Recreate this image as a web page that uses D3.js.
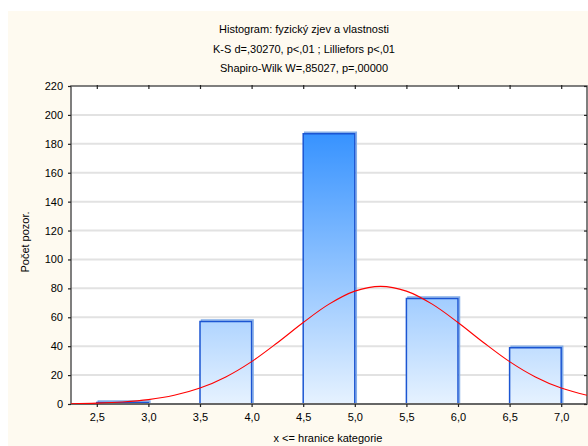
<!DOCTYPE html>
<html>
<head>
<meta charset="utf-8">
<script src="https://cdn.jsdelivr.net/npm/d3@7"></script>
<style>
  html, body { margin: 0; padding: 0; background: #fff; }
  svg { display: block; }
  text { font-family: "Liberation Sans", Arial, sans-serif; fill: #000; }
</style>
</head>
<body>
<svg id="chart" width="588" height="446"></svg>
<script>
// ---- data ----
const titleLines = [
  "Histogram: fyzický zjev a vlastnosti",
  "K-S d=,30270, p<,01 ; Lilliefors p<,01",
  "Shapiro-Wilk W=,85027, p=,00000"
];
const xAxisTitle = "x <= hranice kategorie";
const yAxisTitle = "Počet pozor.";
const binLower = [2.5, 3.0, 3.5, 4.0, 4.5, 5.0, 5.5, 6.0, 6.5];
const binUpper = [3.0, 3.5, 4.0, 4.5, 5.0, 5.5, 6.0, 6.5, 7.0];
const binCounts = [1, 0, 57, 0, 187, 0, 73, 0, 39];
const xTicks = [2.5, 3.0, 3.5, 4.0, 4.5, 5.0, 5.5, 6.0, 6.5, 7.0];
const yTicks = [0, 20, 40, 60, 80, 100, 120, 140, 160, 180, 200, 220];
// expected-normal curve, values
const curveX = [2.25, 2.5, 2.75, 3.0, 3.25, 3.5, 3.75, 4.0, 4.25, 4.5, 4.75, 5.0, 5.25, 5.5, 5.75, 6.0, 6.25, 6.5, 6.75, 7.0, 7.25];
const curveY = [0.2, 0.6, 1.4, 3.0, 6.0, 11.0, 18.7, 29.3, 42.4, 56.4, 69.1, 78.1, 81.4, 78.1, 69.1, 56.4, 42.4, 29.3, 18.7, 11.0, 6.0];

// ---- layout ----
const svg = d3.select("#chart");
const L = 71, R = 587, T = 86, B = 404;
const x = d3.scaleLinear().domain([2.25, 7.25]).range([L, R]);
const y = d3.scaleLinear().domain([0, 220]).range([B, T]);
const fmt = d => d3.format(".1f")(d).replace(".", ",");

svg.append("rect").attr("x", 0).attr("y", 0).attr("width", 588).attr("height", 446).attr("fill", "#fff");
svg.append("rect").attr("x", 8).attr("y", 11).attr("width", 580).attr("height", 435).attr("fill", "#fefaf0");
svg.append("rect").attr("x", L).attr("y", T).attr("width", R - L).attr("height", B - T).attr("fill", "#fff");

const defs = svg.append("defs");
const grad = defs.append("linearGradient").attr("id", "barGrad")
  .attr("gradientUnits", "userSpaceOnUse")
  .attr("x1", 0).attr("x2", 0).attr("y1", y(0)).attr("y2", y(200));
grad.append("stop").attr("offset", "0%").attr("stop-color", "#e6f2ff");
grad.append("stop").attr("offset", "100%").attr("stop-color", "#2b8cff");
defs.append("clipPath").attr("id", "clip").append("rect")
  .attr("x", L).attr("y", T).attr("width", R - L).attr("height", B - T);

// gridlines
svg.append("g").selectAll("line").data(yTicks.filter(d => d > 0 && d < 220)).join("line")
  .attr("x1", L).attr("x2", R).attr("y1", d => y(d)).attr("y2", d => y(d))
  .attr("stroke", "#e2e2e2").attr("stroke-width", 2);

// bars
const bars = binCounts.map((c, i) => ({ x0: binLower[i], x1: binUpper[i], c }));
const barPath = (d, dx, dy) => {
  const a = x(d.x0) + dx, b = x(d.x1) + dx, top = y(d.c) + dy, bot = y(0);
  return `M${a},${bot}V${top}H${b}V${bot}`;
};
const gb = svg.append("g");
gb.selectAll("path.shadow").data(bars.filter(d => d.c > 0)).join("path").attr("class", "shadow")
  .attr("d", d => barPath(d, 1.5, -1.5))
  .attr("fill", "none").attr("stroke", "#84aee8").attr("stroke-width", 1.5);
gb.selectAll("rect.bar").data(bars.filter(d => d.c > 0)).join("rect").attr("class", "bar")
  .attr("x", d => x(d.x0)).attr("width", d => x(d.x1) - x(d.x0))
  .attr("y", d => y(d.c)).attr("height", d => y(0) - y(d.c))
  .attr("fill", "url(#barGrad)");
gb.selectAll("path.edge").data(bars).join("path").attr("class", "edge")
  .attr("d", d => d.c > 0 ? barPath(d, 0, 0) + "Z" : `M${x(d.x0)},${y(0)}H${x(d.x1)}`)
  .attr("fill", "none").attr("stroke", d => d.c > 0 ? "#1b55d2" : "#4a6fb8").attr("stroke-width", 1.5);

// frame
svg.append("rect").attr("x", L).attr("y", T).attr("width", R - L).attr("height", B - T)
  .attr("fill", "none").attr("stroke", "#555").attr("stroke-width", 1.5);
svg.append("line").attr("x1", L).attr("x2", R).attr("y1", B).attr("y2", B)
  .attr("stroke", "#666").attr("stroke-width", 2);

// normal curve
const line = d3.line().x(d => x(d[0])).y(d => y(d[1])).curve(d3.curveCatmullRom);
svg.append("path").attr("clip-path", "url(#clip)")
  .datum(curveX.map((v, i) => [v, curveY[i]]))
  .attr("d", line).attr("fill", "none").attr("stroke", "#ff0000").attr("stroke-width", 1.1);

// axes
const axB = svg.append("g").attr("transform", `translate(0,${B})`)
  .call(d3.axisBottom(x).tickValues(xTicks).tickFormat(fmt).tickSize(3).tickPadding(6));
const axT = svg.append("g").attr("transform", `translate(0,${T})`)
  .call(d3.axisTop(x).tickValues(xTicks).tickFormat("").tickSize(-3));
const axLft = svg.append("g").attr("transform", `translate(${L},0)`)
  .call(d3.axisLeft(y).tickValues(yTicks).tickSize(3).tickPadding(5));
const axRgt = svg.append("g").attr("transform", `translate(${R},0)`)
  .call(d3.axisRight(y).tickValues(yTicks).tickFormat("").tickSize(-3));
[axB, axT, axLft, axRgt].forEach(g => {
  g.select(".domain").remove();
  g.selectAll(".tick line").attr("stroke", "#222").attr("stroke-width", 1.2);
  g.selectAll("text").style("font-family", "'Liberation Sans', Arial, sans-serif")
    .style("font-size", "11px").attr("fill", "#000");
});
axT.selectAll(".tick line").attr("y1", -1);

// titles
svg.append("g").selectAll("text").data(titleLines).join("text")
  .attr("x", 304).attr("y", (d, i) => 33 + i * 19.5)
  .attr("text-anchor", "middle").style("font-size", "11px").text(d => d);
svg.append("text").attr("x", 328).attr("y", 442).attr("text-anchor", "middle")
  .style("font-size", "11px").text(xAxisTitle);
svg.append("text").attr("transform", "translate(29,242) rotate(-90)")
  .attr("text-anchor", "middle").style("font-size", "11px").text(yAxisTitle);
</script>
</body>
</html>
